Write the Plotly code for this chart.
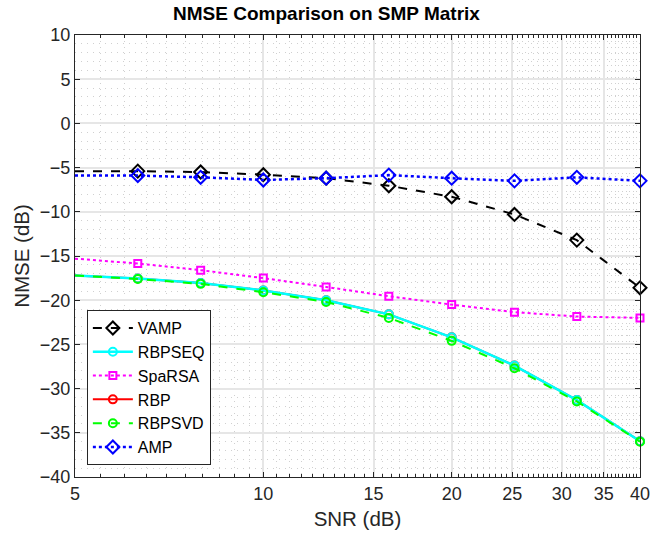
import numpy as np
import plotly.graph_objects as go

snr = [5, 6.3, 7.94, 10, 12.6, 15.87, 20, 25.2, 31.7, 40]
vamp = [-5.4, -5.4, -5.5, -5.8, -6.2, -7.05, -8.3, -10.3, -13.2, -18.6]
rbpseq = [-17.2, -17.55, -18.05, -18.9, -20.0, -21.6, -24.2, -27.4, -31.3, -35.95]
sparsa = [-15.3, -15.85, -16.6, -17.5, -18.5, -19.55, -20.5, -21.35, -21.85, -22.0]
rbp = [-17.2, -17.55, -18.05, -18.9, -20.0, -21.6, -24.2, -27.4, -31.3, -35.95]
rbpsvd = [-17.2, -17.6, -18.15, -19.1, -20.2, -22.0, -24.6, -27.7, -31.45, -36.0]
amp = [-5.9, -5.9, -6.1, -6.4, -6.2, -5.85, -6.2, -6.5, -6.1, -6.5]

x_ticks = [5, 10, 15, 20, 25, 30, 35, 40]
y_ticks = [-40, -35, -30, -25, -20, -15, -10, -5, 0, 5, 10]

FONT = "Liberation Sans, Arial, sans-serif"
TXT = "#262626"

fig = go.Figure()

def add(name, y, color, dash, symbol, rank, size=8, width=2):
    fig.add_trace(go.Scatter(
        x=snr, y=y, name=name, mode="lines+markers",
        line=dict(color=color, width=width, dash=dash),
        marker=dict(symbol=symbol, size=size, color=color,
                    line=dict(color=color, width=2)),
        cliponaxis=False, legendrank=rank, hoverinfo="skip",
    ))

add("VAMP", vamp, "black", "dash", "diamond-open", 1, size=10)
add("RBP", rbp, "red", "solid", "circle-open", 4)
add("RBPSEQ", rbpseq, "cyan", "solid", "circle-open", 2, width=2.5)
add("SpaRSA", sparsa, "magenta", "dot", "square-open", 3, size=7)
add("RBPSVD", rbpsvd, "#00ff00", "dash", "circle-open", 5)
add("AMP", amp, "blue", "dot", "diamond-open", 6, size=10, width=2.5)

fig.update_layout(
    width=653, height=539,
    margin=dict(l=75, r=13, t=35, b=62),
    paper_bgcolor="white", plot_bgcolor="white",
    font=dict(family=FONT, size=18, color=TXT),
    title=dict(text="<b>NMSE Comparison on SMP Matrix</b>", x=0.5, xanchor="center",
               y=0.976, yanchor="middle", font=dict(size=19, color="black")),
    showlegend=True,
    legend=dict(x=0.021, y=0.027, xanchor="left", yanchor="bottom",
                bgcolor="white", bordercolor=TXT, borderwidth=1,
                font=dict(size=16, color="black"), tracegroupgap=0,
                itemwidth=40),
)

fig.update_xaxes(
    type="log", range=[np.log10(5), np.log10(40)],
    tickmode="array", tickvals=x_ticks, ticktext=[str(v) for v in x_ticks],
    showline=True, linecolor=TXT, linewidth=1, mirror="allticks",
    ticks="inside", ticklen=5, tickcolor=TXT,
    showgrid=True, gridcolor="#e6e6e6", gridwidth=1.5,
    minor=dict(tickvals=list(np.arange(5, 40.01, 0.5)), ticks="inside", ticklen=3,
               tickcolor=TXT, showgrid=True, gridcolor="#d0d0d0",
               griddash="1px,5px", gridwidth=1),
    title=dict(text="SNR (dB)", font=dict(size=20.5), standoff=9),
    zeroline=False, ticklabeloverflow="allow", automargin=False,
)
fig.update_yaxes(
    range=[-40, 10],
    tickmode="array", tickvals=y_ticks,
    showline=True, linecolor=TXT, linewidth=1, mirror="allticks",
    ticks="inside", ticklen=5, tickcolor=TXT,
    showgrid=True, gridcolor="#e6e6e6", gridwidth=1.5,
    minor=dict(dtick=1, ticks="", showgrid=True, gridcolor="#d0d0d0",
               griddash="1px,5px", gridwidth=1),
    title=dict(text="NMSE (dB)", font=dict(size=20.5), standoff=4),
    zeroline=False, automargin=False,
)

post = ("document.body.style.margin='0';"
        "document.body.style.overflow='hidden';"
        "document.documentElement.style.overflow='hidden';")

fig.write_html("out.html", post_script=post,
               config={"displayModeBar": False, "responsive": False})
